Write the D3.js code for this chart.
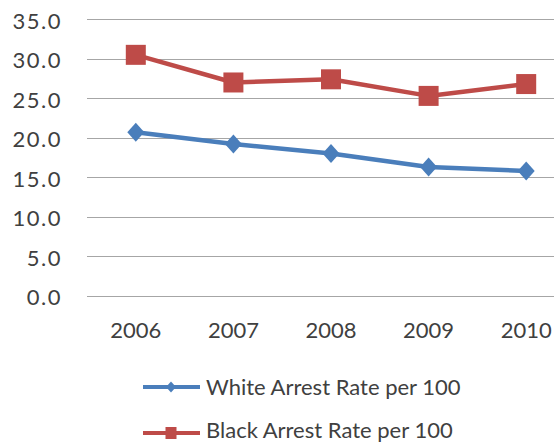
<!DOCTYPE html>
<html>
<head>
<meta charset="utf-8">
<script src="https://cdn.jsdelivr.net/npm/d3@7"></script>
<style>
  html, body { margin: 0; padding: 0; background: #fff; }
  svg { display: block; }
  text { font-family: Lato, "Open Sans", sans-serif; fill: #404040; }
</style>
</head>
<body>
<script>
// Arrest rates per 100, by year
const years = ["2006", "2007", "2008", "2009", "2010"];
const whiteRate = [20.7, 19.2, 18.0, 16.3, 15.8];
const blackRate = [30.5, 27.0, 27.4, 25.3, 26.8];
const yTicks = [0, 5, 10, 15, 20, 25, 30, 35];
const seriesNames = ["White Arrest Rate per 100", "Black Arrest Rate per 100"];
const seriesColors = ["#4A7EBB", "#BE4B48"];

const W = 554, H = 445;
const FONT = "Lato, 'Open Sans', sans-serif";
const svg = d3.select("body").append("svg").attr("width", W).attr("height", H);

const x = d3.scaleBand().domain(years).range([87, 575]);
const y = d3.scaleLinear().domain([0, 35]).range([295.7, 19.3]);

// horizontal gridlines
svg.append("g").selectAll("line").data(yTicks).join("line")
  .attr("x1", 87).attr("x2", W)
  .attr("y1", d => Math.round(y(d)) + 0.5).attr("y2", d => Math.round(y(d)) + 0.5)
  .attr("stroke", "#a6a6a6").attr("stroke-width", 1.2);

// y axis labels
const yAxis = d3.axisLeft(y).tickValues(yTicks).tickFormat(d3.format(".1f")).tickSize(0).tickPadding(0);
svg.append("g").attr("transform", "translate(62,1)").call(yAxis)
  .call(g => g.select(".domain").remove())
  .call(g => g.selectAll("text").attr("font-size", 22).attr("dy", "0.36em")
    .attr("letter-spacing", 1.5).attr("fill", "#404040").style("font-family", FONT));

// x axis labels
const xAxis = d3.axisBottom(x).tickSize(0).tickPadding(0);
svg.append("g").attr("transform", "translate(0,322)").call(xAxis)
  .call(g => g.select(".domain").remove())
  .call(g => g.selectAll("text").attr("font-size", 22).attr("fill", "#404040")
    .style("font-family", FONT));

const cx = d => x(d) + x.bandwidth() / 2;
const line = d3.line().x((d, i) => cx(years[i])).y(d => y(d));

const diamond = (s, h) => `M0,${-h}L${s},0L0,${h}L${-s},0Z`;

function drawSeries(values, color, marker) {
  const g = svg.append("g");
  g.append("path").datum(values).attr("d", line)
    .attr("fill", "none").attr("stroke", color).attr("stroke-width", 4.5)
    .attr("stroke-linejoin", "round");
  const m = g.selectAll(".m").data(values).join("g")
    .attr("transform", (d, i) => `translate(${cx(years[i])},${y(d)})`);
  if (marker === "square") {
    m.append("rect").attr("x", -10).attr("y", -10).attr("width", 20).attr("height", 20)
      .attr("fill", color);
  } else {
    m.append("path").attr("d", diamond(8.5, 9.5)).attr("fill", color);
  }
}
drawSeries(whiteRate, seriesColors[0], "diamond");
drawSeries(blackRate, seriesColors[1], "square");

// legend: line swatch with marker, then the series name
const legendY = [387, 433];
const legendBaseline = [395, 438];
seriesNames.forEach((name, i) => {
  const g = svg.append("g").attr("transform", `translate(0,${legendY[i]})`);
  g.append("line").attr("x1", 143).attr("x2", 200).attr("y1", 0).attr("y2", 0)
    .attr("stroke", seriesColors[i]).attr("stroke-width", 4);
  if (i === 0) {
    g.append("path").attr("transform", "translate(171,0)").attr("d", diamond(5, 5.5)).attr("fill", seriesColors[i]);
  } else {
    g.append("rect").attr("x", 165.5).attr("y", -6).attr("width", 11).attr("height", 12).attr("fill", seriesColors[i]);
  }
  svg.append("text").attr("x", 206).attr("y", legendBaseline[i])
    .attr("font-size", 22).style("font-family", FONT).text(name);
});
</script>
</body>
</html>
